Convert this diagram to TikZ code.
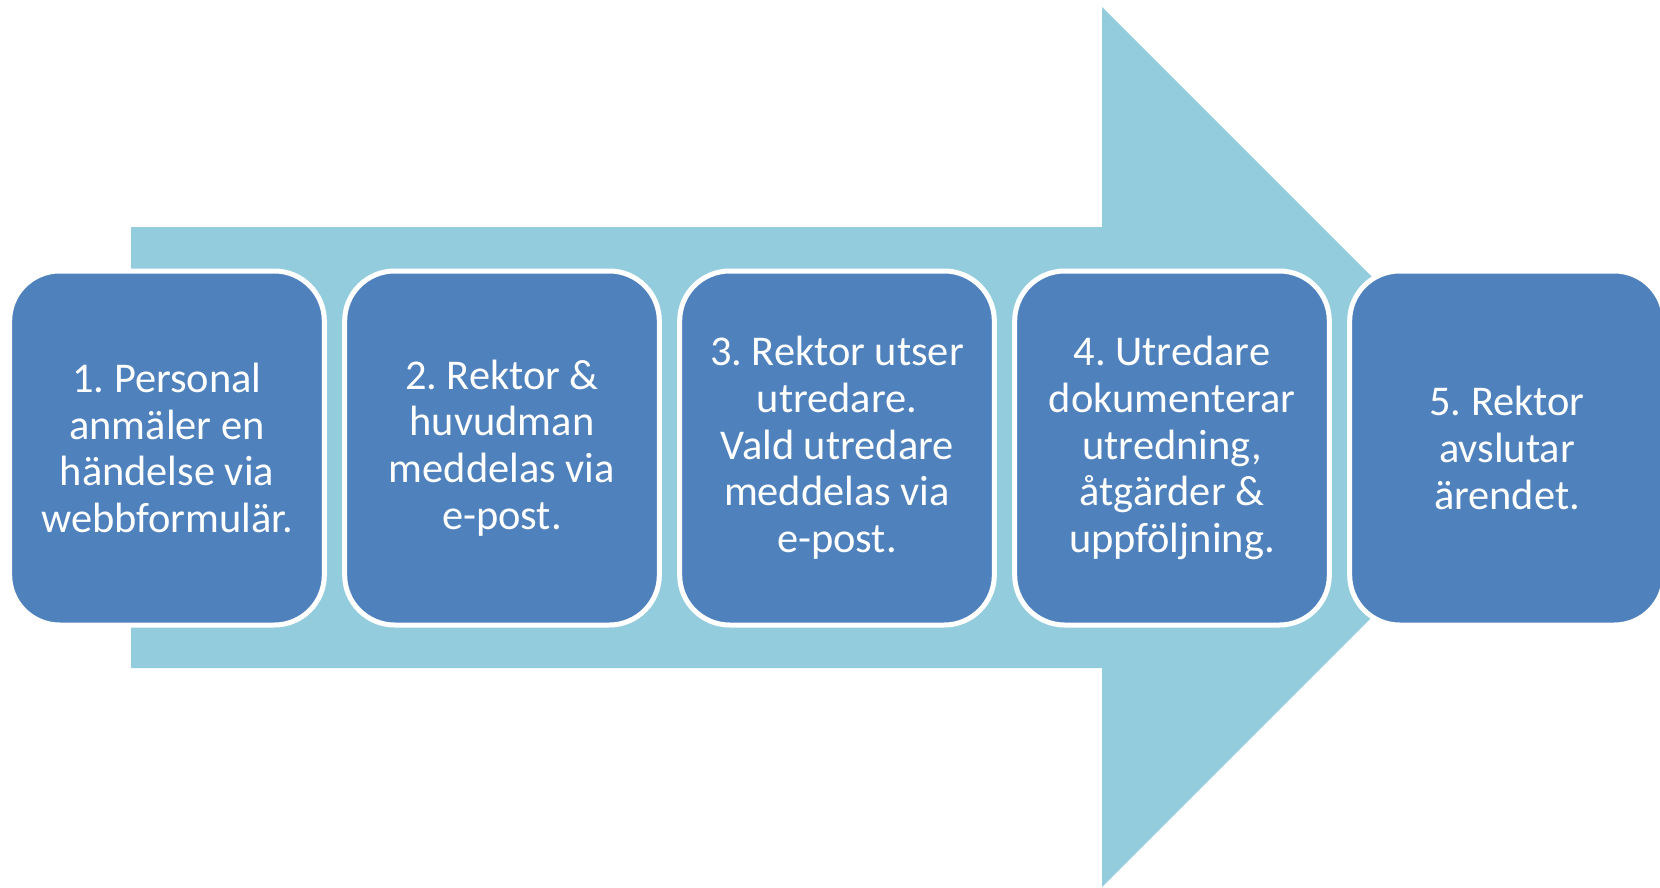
\documentclass[tikz,border=0pt]{standalone}
\usepackage{fontspec}
\setmainfont{Carlito}
\frenchspacing
\definecolor{arrowblue}{HTML}{93CDDD}
\definecolor{boxblue}{HTML}{4F81BD}
\tikzset{
  stepbox/.style={draw=white, line width=3.75pt, fill=boxblue, rounded corners=37.5pt,
    minimum width=236pt, minimum height=265.5pt, align=center,
    text=white, inner sep=0pt,
    font=\fontsize{31.8pt}{35pt}\selectfont},
}
\begin{document}
\begin{tikzpicture}[x=0.75pt,y=-0.75pt]
\useasboundingbox (0,0) rectangle (1660,888);
\clip (0,0) rectangle (1660,888);
\fill[arrowblue] (131,227) -- (1102,227) -- (1102,7) -- (1542,447) -- (1102,887) -- (1102,668) -- (131,668) -- cycle;
\node[stepbox] (s1) at (167,448) {1. Personal\\anmäler en\\händelse via\\webbformulär.};
\node[stepbox] (s2) at (502,448) {2. Rektor \&\\huvudman\\meddelas via\\e-post.};
\node[stepbox] (s3) at (837,448) {3. Rektor utser\\utredare.\\Vald utredare\\meddelas via\\e-post.};
\node[stepbox] (s4) at (1172,448) {4. Utredare\\dokumenterar\\utredning,\\åtgärder \&\\uppföljning.};
\node[stepbox] (s5) at (1507,448) {5. Rektor\\avslutar\\ärendet.};
\end{tikzpicture}
\end{document}
